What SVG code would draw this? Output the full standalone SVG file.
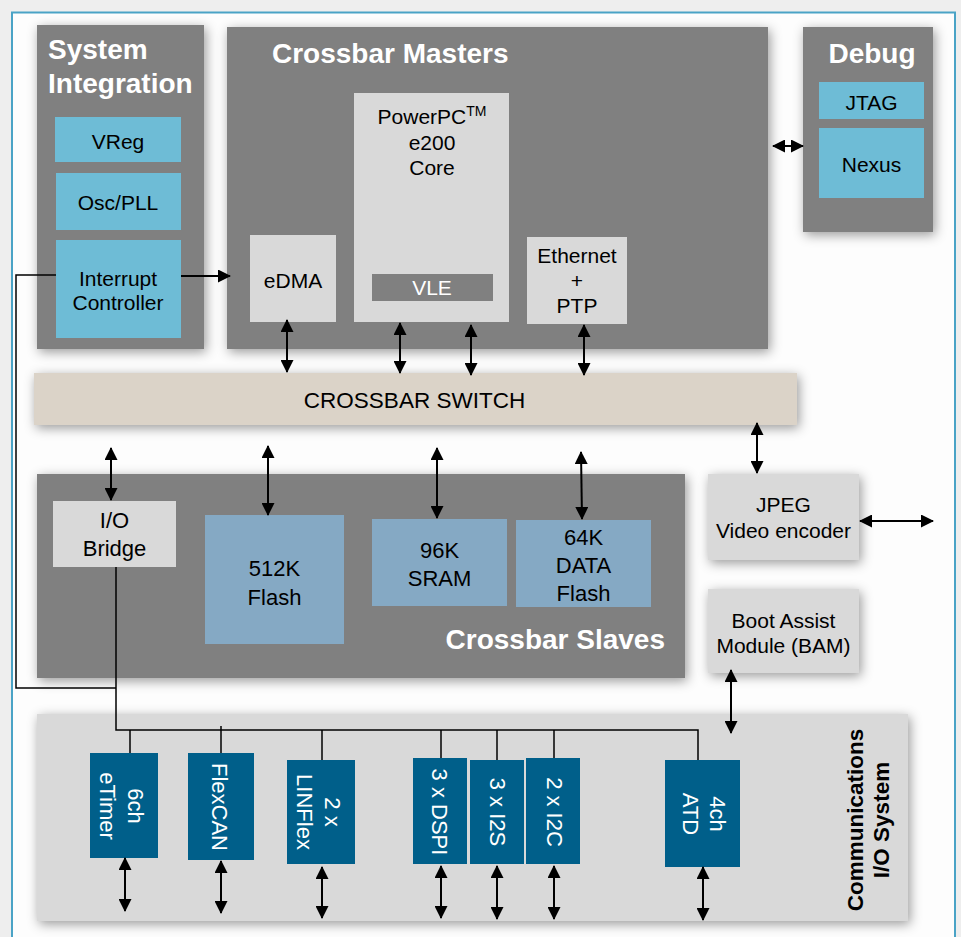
<svg xmlns="http://www.w3.org/2000/svg" width="961" height="937" viewBox="0 0 961 937">
<defs>
<style>
.dk{fill:#808080}
.lt{fill:#d9d9d9}
.cy{fill:#6ebcd6}
.sb{fill:#85a9c4}
.db{fill:#005f8a}
.sw{fill:#dbd3c8}
.t{font-family:"Liberation Sans",Arial,sans-serif;font-size:21px;fill:#000;text-anchor:middle}
.t22{font-size:22px}
.w{fill:#fff}
.ttl{font-family:"Liberation Sans",Arial,sans-serif;font-size:28px;font-weight:bold;fill:#fff}
.vt{font-family:"Liberation Sans",Arial,sans-serif;font-size:22px;fill:#fff;text-anchor:middle}
.c{stroke:#000;stroke-width:2;fill:none}
.wire{stroke:#000;stroke-width:1.5;fill:none}
</style>
<filter id="sh" filterUnits="userSpaceOnUse" x="-50" y="-50" width="1061" height="1037">
<feDropShadow dx="2" dy="3" stdDeviation="6" flood-color="#000" flood-opacity="0.4"/>
</filter>
<marker id="ah" viewBox="0 0 13 13" refX="12" refY="6.5" markerWidth="13" markerHeight="13" markerUnits="userSpaceOnUse" orient="auto-start-reverse">
<path d="M0,0 L13,6.5 L0,13 z" fill="#000"/>
</marker>
</defs>

<rect x="0" y="0" width="961" height="937" fill="#eeeeee"/>
<rect x="12" y="12.5" width="943" height="940" fill="#fdfdfd" stroke="#4aa3c6" stroke-width="2"/>

<g id="system-integration">
<rect class="dk" x="37" y="25" width="167" height="324" filter="url(#sh)"/>
<text class="ttl" x="48" y="59">System</text>
<text class="ttl" x="48" y="93">Integration</text>
<rect class="cy" x="55" y="117" width="126" height="45"/>
<text class="t" x="118" y="149">VReg</text>
<rect class="cy" x="56" y="173" width="125" height="57"/>
<text class="t" x="118" y="210">Osc/PLL</text>
<rect class="cy" x="56" y="240" width="125" height="98"/>
<text class="t" x="118" y="286">Interrupt</text>
<text class="t" x="118" y="310">Controller</text>
</g>

<g id="crossbar-masters">
<rect class="dk" x="227" y="27" width="541" height="322" filter="url(#sh)"/>
<text class="ttl" x="272" y="63">Crossbar Masters</text>
<rect class="lt" x="354" y="93" width="155" height="229"/>
<text class="t" x="432" y="124">PowerPC<tspan font-size="14" dy="-8">TM</tspan></text>
<text class="t" x="432" y="150">e200</text>
<text class="t" x="432" y="175">Core</text>
<rect class="dk" x="372" y="274" width="121" height="27"/>
<text class="t w" x="432" y="295">VLE</text>
<rect class="lt" x="250" y="235" width="86" height="87"/>
<text class="t" x="293" y="288">eDMA</text>
<rect class="lt" x="527" y="237" width="100" height="87"/>
<text class="t" x="577" y="263">Ethernet</text>
<text class="t" x="577" y="288">+</text>
<text class="t" x="577" y="313">PTP</text>
</g>

<g id="debug">
<rect class="dk" x="803" y="27" width="130" height="205" filter="url(#sh)"/>
<text class="ttl" x="872" y="63" text-anchor="middle">Debug</text>
<rect class="cy" x="819" y="82" width="105" height="37"/>
<text class="t" x="871.5" y="110">JTAG</text>
<rect class="cy" x="819" y="128" width="105" height="70"/>
<text class="t" x="871.5" y="172">Nexus</text>
</g>

<g id="crossbar-switch">
<rect class="sw" x="34" y="373" width="763" height="52" filter="url(#sh)"/>
<text class="t" x="414.5" y="408" style="font-size:22.5px">CROSSBAR SWITCH</text>
</g>

<g id="crossbar-slaves">
<rect class="dk" x="37" y="474" width="648" height="204" filter="url(#sh)"/>
<rect class="lt" x="53" y="501" width="123" height="66"/>
<text class="t t22" x="114.5" y="528">I/O</text>
<text class="t t22" x="114.5" y="556">Bridge</text>
<rect class="sb" x="205" y="515" width="139" height="129"/>
<text class="t t22" x="274.5" y="576">512K</text>
<text class="t t22" x="274.5" y="605">Flash</text>
<rect class="sb" x="372" y="519" width="135" height="87"/>
<text class="t t22" x="439.5" y="558">96K</text>
<text class="t t22" x="439.5" y="586">SRAM</text>
<rect class="sb" x="516" y="520" width="135" height="87"/>
<text class="t t22" x="583.5" y="545">64K</text>
<text class="t t22" x="583.5" y="573">DATA</text>
<text class="t t22" x="583.5" y="601">Flash</text>
<text class="ttl" x="665" y="649" text-anchor="end">Crossbar Slaves</text>
</g>

<g id="jpeg">
<rect class="lt" x="708" y="474" width="151" height="86" filter="url(#sh)"/>
<text class="t" x="783.5" y="512">JPEG</text>
<text class="t" x="783.5" y="538">Video encoder</text>
</g>

<g id="bam">
<rect class="lt" x="708" y="589" width="151" height="84" filter="url(#sh)"/>
<text class="t" x="783.5" y="628">Boot Assist</text>
<text class="t" x="783.5" y="653">Module (BAM)</text>
</g>

<g id="comm-io">
<rect class="lt" x="37" y="714" width="871" height="207" filter="url(#sh)"/>
<text transform="translate(863,820) rotate(-90)" text-anchor="middle" style="font-family:'Liberation Sans',Arial,sans-serif;font-size:22.5px;font-weight:bold;fill:#000">Communications</text>
<text transform="translate(889,820) rotate(-90)" text-anchor="middle" style="font-family:'Liberation Sans',Arial,sans-serif;font-size:22.5px;font-weight:bold;fill:#000">I/O System</text>
</g>

<g id="etimer">
<rect class="db" x="90" y="753" width="68" height="105"/>
<text class="vt" transform="translate(128,806) rotate(90)">6ch</text>
<text class="vt" transform="translate(100,806) rotate(90)">eTimer</text>
</g>
<g id="flexcan">
<rect class="db" x="188" y="753" width="66" height="107"/>
<text class="vt" transform="translate(212,807) rotate(90)">FlexCAN</text>
</g>
<g id="linflex">
<rect class="db" x="287" y="760" width="68" height="104"/>
<text class="vt" transform="translate(325,812) rotate(90)">2 x</text>
<text class="vt" transform="translate(297,812) rotate(90)">LINFlex</text>
</g>
<g id="dspi">
<rect class="db" x="413" y="758" width="54" height="106"/>
<text class="vt" transform="translate(432,812) rotate(90)">3 x DSPI</text>
</g>
<g id="i2s">
<rect class="db" x="470" y="760" width="54" height="104"/>
<text class="vt" transform="translate(490,812) rotate(90)">3 x I2S</text>
</g>
<g id="i2c">
<rect class="db" x="526" y="758" width="54" height="106"/>
<text class="vt" transform="translate(547,812) rotate(90)">2 x I2C</text>
</g>
<g id="atd">
<rect class="db" x="665" y="760" width="75" height="107"/>
<text class="vt" transform="translate(710,814) rotate(90)">4ch</text>
<text class="vt" transform="translate(683,814) rotate(90)">ATD</text>
</g>

<g id="connectors">
<polyline class="wire" points="56,275 16,275 16,688 116,688"/>
<polyline class="wire" points="116,567 116,730 698,730 698,760"/>
<line class="wire" x1="130" y1="730" x2="130" y2="753"/>
<line class="wire" x1="221" y1="726" x2="221" y2="753"/>
<line class="wire" x1="322" y1="730" x2="322" y2="760"/>
<line class="wire" x1="441" y1="730" x2="441" y2="758"/>
<line class="wire" x1="497" y1="730" x2="497" y2="760"/>
<line class="wire" x1="554" y1="730" x2="554" y2="758"/>

<line class="c" x1="181" y1="276" x2="230" y2="276" marker-end="url(#ah)"/>
<line class="c" x1="773" y1="146" x2="803" y2="146" marker-start="url(#ah)" marker-end="url(#ah)"/>

<line class="c" x1="287" y1="320" x2="287" y2="372" marker-start="url(#ah)" marker-end="url(#ah)"/>
<line class="c" x1="400" y1="323" x2="400" y2="373" marker-start="url(#ah)" marker-end="url(#ah)"/>
<line class="c" x1="471" y1="325" x2="471" y2="375" marker-start="url(#ah)" marker-end="url(#ah)"/>
<line class="c" x1="584" y1="325" x2="584" y2="375" marker-start="url(#ah)" marker-end="url(#ah)"/>

<line class="c" x1="111" y1="448" x2="111" y2="500" marker-start="url(#ah)" marker-end="url(#ah)"/>
<line class="c" x1="268" y1="446" x2="268" y2="515" marker-start="url(#ah)" marker-end="url(#ah)"/>
<line class="c" x1="437" y1="448" x2="437" y2="518" marker-start="url(#ah)" marker-end="url(#ah)"/>
<line class="c" x1="581" y1="452" x2="582" y2="519" marker-start="url(#ah)" marker-end="url(#ah)"/>
<line class="c" x1="757" y1="423" x2="757" y2="473" marker-start="url(#ah)" marker-end="url(#ah)"/>
<line class="c" x1="860" y1="521" x2="933" y2="521" marker-start="url(#ah)" marker-end="url(#ah)"/>
<line class="c" x1="731" y1="670" x2="731" y2="733" marker-start="url(#ah)" marker-end="url(#ah)"/>

<line class="c" x1="125" y1="858" x2="125" y2="911" marker-start="url(#ah)" marker-end="url(#ah)"/>
<line class="c" x1="221" y1="861" x2="221" y2="913" marker-start="url(#ah)" marker-end="url(#ah)"/>
<line class="c" x1="322" y1="867" x2="322" y2="918" marker-start="url(#ah)" marker-end="url(#ah)"/>
<line class="c" x1="441" y1="866" x2="441" y2="918" marker-start="url(#ah)" marker-end="url(#ah)"/>
<line class="c" x1="497" y1="866" x2="497" y2="919" marker-start="url(#ah)" marker-end="url(#ah)"/>
<line class="c" x1="554" y1="866" x2="554" y2="919" marker-start="url(#ah)" marker-end="url(#ah)"/>
<line class="c" x1="703" y1="867" x2="703" y2="920" marker-start="url(#ah)" marker-end="url(#ah)"/>
</g>
</svg>
